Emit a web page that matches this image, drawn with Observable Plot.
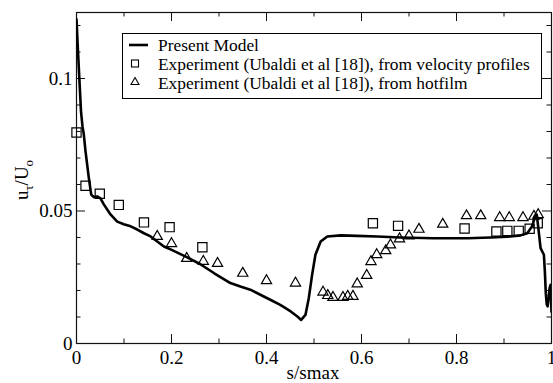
<!DOCTYPE html>
<html>
<head>
<meta charset="utf-8">
<script src="https://cdn.jsdelivr.net/npm/d3@7"></script>
<script src="https://cdn.jsdelivr.net/npm/@observablehq/plot@0.6"></script>
<style>
  html, body { margin: 0; padding: 0; background: #fff; }
  #chart svg { display: block; }
</style>
</head>
<body>
<div id="chart"></div>
<script>
// ---- data ----
const lineS = [0, 0.0032, 0.0063, 0.0095, 0.0126, 0.0154, 0.019, 0.026, 0.031, 0.0364, 0.0436, 0.0505, 0.0575, 0.0716, 0.0857, 0.0996, 0.114, 0.128, 0.142, 0.156, 0.17, 0.184, 0.198, 0.23, 0.26, 0.29, 0.324, 0.345, 0.366, 0.387, 0.408, 0.429, 0.451, 0.465, 0.473, 0.482, 0.489, 0.496, 0.503, 0.514, 0.528, 0.556, 0.591, 0.633, 0.682, 0.752, 0.823, 0.872, 0.907, 0.935, 0.949, 0.959, 0.965, 0.969, 0.972, 0.977, 0.984, 0.986, 0.988, 0.990, 0.992, 0.996, 0.998, 0.9995, 1.0];
const lineU = [0.1223, 0.1100, 0.0989, 0.0875, 0.0819, 0.0789, 0.0725, 0.0624, 0.0562, 0.0552, 0.0555, 0.0548, 0.0525, 0.0487, 0.046, 0.045, 0.0442, 0.043, 0.0416, 0.0404, 0.0385, 0.0366, 0.0355, 0.0328, 0.0300, 0.0265, 0.0228, 0.0215, 0.0203, 0.0184, 0.0165, 0.0146, 0.0121, 0.0102, 0.0089, 0.0108, 0.0171, 0.0259, 0.0335, 0.0385, 0.0404, 0.0408, 0.0406, 0.0404, 0.0400, 0.0397, 0.0397, 0.0400, 0.0403, 0.0408, 0.0416, 0.0442, 0.0475, 0.0486, 0.0440, 0.0360, 0.0335, 0.0272, 0.0190, 0.0148, 0.0140, 0.0209, 0.0221, 0.0146, 0.0120];

const sqS = [0.0, 0.019, 0.049, 0.089, 0.142, 0.196, 0.265, 0.624, 0.677, 0.817, 0.884, 0.907, 0.931, 0.954, 0.971];
const sqU = [0.0796, 0.0595, 0.0565, 0.0523, 0.0457, 0.0439, 0.0363, 0.0454, 0.0444, 0.0434, 0.0423, 0.0425, 0.0425, 0.0433, 0.0454];

const triS = [0.17, 0.2, 0.232, 0.267, 0.297, 0.35, 0.4, 0.461, 0.519, 0.529, 0.540, 0.561, 0.571, 0.582, 0.591, 0.611, 0.62, 0.632, 0.651, 0.661, 0.68, 0.7, 0.721, 0.771, 0.821, 0.851, 0.891, 0.911, 0.94, 0.963, 0.972];
const triU = [0.0404, 0.0377, 0.0321, 0.0310, 0.0302, 0.0265, 0.0237, 0.0228, 0.0194, 0.0181, 0.0174, 0.0174, 0.0178, 0.0178, 0.0225, 0.0257, 0.0309, 0.0335, 0.0350, 0.0372, 0.0395, 0.0406, 0.0431, 0.0450, 0.0482, 0.0482, 0.0475, 0.0475, 0.0475, 0.0480, 0.0486];

const xMajor = [0, 0.2, 0.4, 0.6, 0.8, 1];
const xMinor = [0.1, 0.3, 0.5, 0.7, 0.9];
const yMajor = [0, 0.05, 0.1];
const yMinor = [0.01, 0.02, 0.03, 0.04, 0.06, 0.07, 0.08, 0.09, 0.11, 0.12];
const legendLabels = ["Present Model", "Experiment (Ubaldi et al [18]), from velocity profiles", "Experiment (Ubaldi et al [18]), from hotfilm"];

const lineData = lineS.map((s, i) => ({s, u: lineU[i]}));
const sqData = sqS.map((s, i) => ({s, u: sqU[i]}));
const triData = triS.map((s, i) => ({s, u: triU[i]}));

const W = 553, H = 383, mL = 76, mR = 2, mT = 12, mB = 40;
const innerW = W - mL - mR, innerH = H - mT - mB;
const MAJ = 9, MIN = 4.5;
const fmt = d => String(d);
const tk = {stroke: "#111", strokeWidth: 1};

const chart = Plot.plot({
  width: W,
  height: H,
  marginLeft: mL,
  marginRight: mR,
  marginTop: mT,
  marginBottom: mB,
  style: {fontFamily: "'Liberation Serif', 'DejaVu Serif', serif", fontSize: "19px", color: "#000", background: "#fff"},
  x: {domain: [0, 1]},
  y: {domain: [0, 0.1249]},
  marks: [
    // inward tick marks on all four sides
    Plot.ruleX(xMajor, {x: d => d, ...tk, insetTop: innerH - MAJ}),
    Plot.ruleX(xMinor, {x: d => d, ...tk, insetTop: innerH - MIN}),
    Plot.ruleX(xMajor, {x: d => d, ...tk, insetBottom: innerH - MAJ}),
    Plot.ruleX(xMinor, {x: d => d, ...tk, insetBottom: innerH - MIN}),
    Plot.ruleY(yMajor, {y: d => d, ...tk, insetRight: innerW - MAJ}),
    Plot.ruleY(yMinor, {y: d => d, ...tk, insetRight: innerW - MIN}),
    Plot.ruleY(yMajor, {y: d => d, ...tk, insetLeft: innerW - MAJ}),
    Plot.ruleY(yMinor, {y: d => d, ...tk, insetLeft: innerW - MIN}),
    // tick labels
    Plot.axisX(xMajor, {anchor: "bottom", tickSize: 0, tickPadding: 7, tickFormat: fmt, label: null, fill: "#000"}),
    Plot.axisY(yMajor, {anchor: "left", tickSize: 0, tickPadding: 4, tickFormat: fmt, label: null, fill: "#000"}),
    Plot.frame({stroke: "#111", strokeWidth: 1.2}),
    // data
    Plot.line(lineData, {x: "s", y: "u", stroke: "#000", strokeWidth: 2.6, clip: true}),
    Plot.dot(sqData, {x: "s", y: "u", symbol: "square", r: 5.2, stroke: "#000", strokeWidth: 1.2, fill: "none"}),
    Plot.dot(triData, {x: "s", y: "u", symbol: "triangle", r: 3.8, stroke: "#000", strokeWidth: 1.2, fill: "none"})
  ]
});

document.getElementById("chart").appendChild(chart);

// ---- axis titles and legend (added to the SVG) ----
const svg = d3.select(chart);
const font = "'Liberation Serif', 'DejaVu Serif', serif";

svg.append("text")
  .attr("x", 313).attr("y", 379)
  .attr("text-anchor", "middle")
  .attr("font-family", font).attr("font-size", 19).attr("fill", "#000")
  .text("s/smax");

const yl = svg.append("text")
  .attr("transform", "translate(28,180) rotate(-90)")
  .attr("text-anchor", "middle")
  .attr("font-family", font).attr("font-size", 19).attr("fill", "#000");
yl.append("tspan").text("u");
yl.append("tspan").attr("dy", 5).attr("font-size", 13).text("τ");
yl.append("tspan").attr("dy", -5).text("/U");
yl.append("tspan").attr("dy", 5).attr("font-size", 13).text("o");

const lg = svg.append("g").attr("text-anchor", "start");
lg.append("rect").attr("x", 122.5).attr("y", 33.5).attr("width", 419).attr("height", 65)
  .attr("fill", "#fff").attr("stroke", "#000").attr("stroke-width", 1);
lg.append("line").attr("x1", 129).attr("x2", 148).attr("y1", 45).attr("y2", 45)
  .attr("stroke", "#000").attr("stroke-width", 2.6);
lg.append("rect").attr("x", 131.5).attr("y", 60).attr("width", 7).attr("height", 7)
  .attr("fill", "none").attr("stroke", "#000").attr("stroke-width", 1.1);
lg.append("path").attr("d", "M135,77.5L139,84.5L131,84.5Z")
  .attr("fill", "none").attr("stroke", "#000").attr("stroke-width", 1.1);
const rowsY = [51, 70, 88.5];
legendLabels.forEach((t, i) => {
  lg.append("text").attr("x", 158).attr("y", rowsY[i])
    .attr("text-anchor", "start")
    .attr("font-family", font).attr("font-size", 17.4).attr("fill", "#000")
    .text(t);
});
</script>
</body>
</html>
